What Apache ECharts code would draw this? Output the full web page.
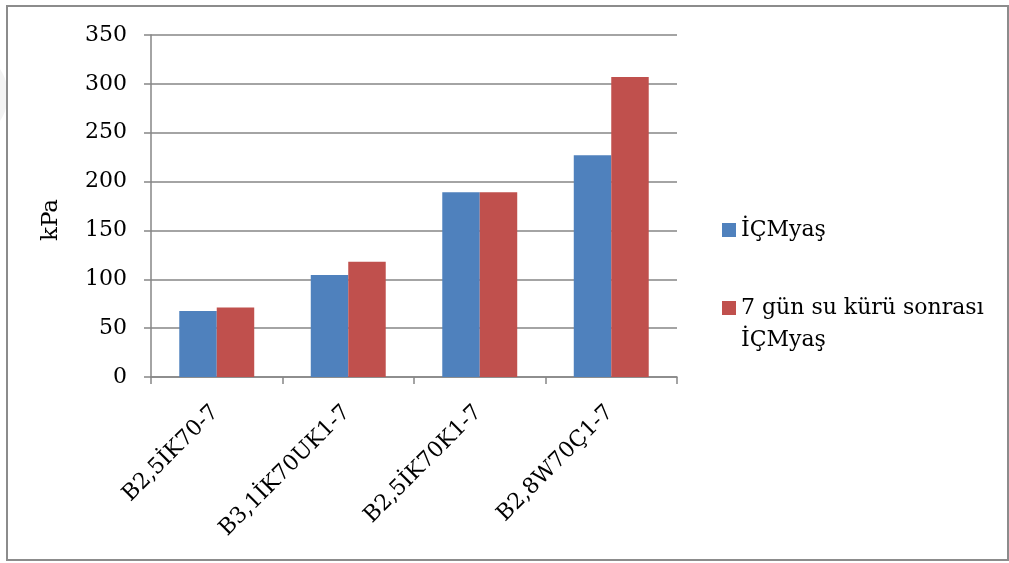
<!DOCTYPE html>
<html>
<head>
<meta charset="utf-8">
<script src="https://cdn.jsdelivr.net/npm/echarts@6/dist/echarts.min.js"></script>
<style>
  html, body { margin: 0; padding: 0; background: #fff; }
  #chart { width: 1009px; height: 563px; }
</style>
</head>
<body>
<div id="chart"></div>
<script>
// Specimen codes along the x axis
const categories = ['B2,5İK70-7', 'B3,1İK70UK1-7', 'B2,5İK70K1-7', 'B2,8W70Ç1-7'];
// Strength before curing (kPa)
const icmYas = [67.5, 104.5, 189, 227];
// Strength after 7 days of water curing (kPa)
const icmYasCured = [71, 118, 189, 307];
const seriesNames = ['İÇMyaş', '7 gün su kürü sonrası\nİÇMyaş'];
const yTicks = { min: 0, max: 350, interval: 50 };

const serif = '"DejaVu Serif", "Liberation Serif", serif';
const chart = echarts.init(document.getElementById('chart'), null, { renderer: 'canvas' });

const legendText = { fontFamily: serif, fontSize: 22, color: '#000', lineHeight: 32 };

chart.setOption({
  backgroundColor: '#fff',
  animation: false,
  graphic: [
    {
      // faint page mark at the left margin
      type: 'circle',
      shape: { cx: -38, cy: 95, r: 46 },
      style: { fill: '#f3f3f3' },
      silent: true,
      z: -1
    },
    {
      type: 'rect',
      shape: { x: 7, y: 6, width: 1001, height: 554 },
      style: { fill: 'none', stroke: '#8c8c8c', lineWidth: 2 },
      silent: true
    }
  ],
  grid: { left: 151, right: 332, top: 35, bottom: 186, containLabel: false },
  legend: [
    {
      orient: 'vertical',
      left: 717,
      top: 209,
      itemWidth: 14,
      itemHeight: 14,
      itemGap: 0,
      icon: 'rect',
      textStyle: legendText,
      data: [seriesNames[0]]
    },
    {
      orient: 'vertical',
      left: 717,
      top: 255,
      itemWidth: 14,
      itemHeight: 14,
      itemGap: 0,
      icon: 'rect',
      textStyle: legendText,
      // a blank leading line keeps the first text line level with the swatch
      formatter: function (name) { return '\u00a0\n' + name; },
      data: [seriesNames[1]]
    }
  ],
  xAxis: {
    type: 'category',
    data: categories,
    axisLine: { lineStyle: { color: '#868686', width: 1.5 } },
    axisTick: { show: true, length: 7, lineStyle: { color: '#868686', width: 1.5 } },
    axisLabel: {
      rotate: 45,
      margin: 15,
      align: 'right',
      verticalAlign: 'top',
      padding: [0, 13, 0, 0],
      fontFamily: serif,
      fontSize: 22,
      color: '#000'
    }
  },
  yAxis: {
    type: 'value',
    min: yTicks.min,
    max: yTicks.max,
    interval: yTicks.interval,
    name: 'kPa',
    nameLocation: 'middle',
    nameGap: 88,
    nameRotate: 90,
    nameTextStyle: { fontFamily: serif, fontSize: 23, color: '#000', padding: [0, 28, 0, 0] },
    axisLine: { show: true, lineStyle: { color: '#868686', width: 1.5 } },
    axisTick: { show: true, length: 7, lineStyle: { color: '#868686', width: 1.5 } },
    axisLabel: { fontFamily: serif, fontSize: 22, color: '#000', margin: 24 },
    splitLine: { lineStyle: { color: '#868686', width: 1.5 } }
  },
  series: [
    {
      name: seriesNames[0],
      type: 'bar',
      data: icmYas,
      barGap: '0%',
      barCategoryGap: '43%',
      itemStyle: { color: '#4f81bd' }
    },
    {
      name: seriesNames[1],
      type: 'bar',
      data: icmYasCured,
      barGap: '0%',
      barCategoryGap: '43%',
      itemStyle: { color: '#c0504d' }
    }
  ]
});
</script>
</body>
</html>
